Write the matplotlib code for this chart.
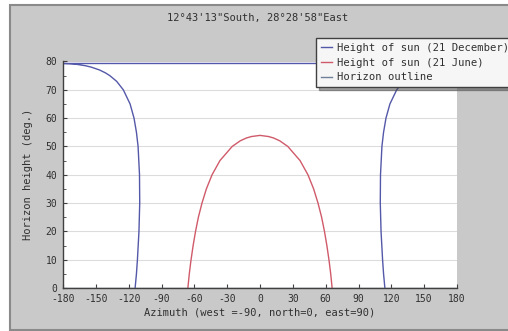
import matplotlib
matplotlib.use("Agg")
import matplotlib.pyplot as plt
from matplotlib.patches import Rectangle
from matplotlib.ticker import MultipleLocator

plt.rcParams["axes.unicode_minus"] = False

# Sun path on 21 June (azimuth in degrees, height in degrees)
june_az = [-65.9, -64.6, -63.0, -61.1, -58.9, -56.3, -53.0, -49.0, -43.8, -36.6, -25.4,
           -18.0, -12.3, -7.8, 0.0, 7.8, 12.3, 18.0, 25.4, 36.6, 43.8, 49.0, 53.0,
           56.3, 58.9, 61.1, 63.0, 64.6, 65.9]
june_alt = [0, 5, 10, 15, 20, 25, 30, 35, 40, 45, 50, 52, 53, 53.5, 53.9,
            53.5, 53, 52, 50, 45, 40, 35, 30, 25, 20, 15, 10, 5, 0]

# Sun path on 21 December: rises in the east, passes south (wraps at +-180), sets in the west
dec_az = [114.1, 112.9, 112.0, 110.6, 109.9, 110.1, 111.4, 112.9, 115.1, 118.7, 124.9,
          131.0, 137.2, 141.3, 146.6, 154.1, 159.4, 167.5, 173.2, 180.0,
          -180.0, -173.2, -167.5, -159.4, -154.1, -146.6, -141.3, -137.2, -131.0,
          -124.9, -118.7, -115.1, -112.9, -111.4, -110.1, -109.9, -110.6, -112.0,
          -112.9, -114.1]
dec_alt = [0, 5, 10, 20, 30, 40, 50, 55, 60, 65, 70, 73, 75, 76, 77, 78, 78.5, 79,
           79.2, 79.3,
           79.3, 79.2, 79, 78.5, 78, 77, 76, 75, 73, 70, 65, 60, 55, 50, 40, 30, 20,
           10, 5, 0]

# Horizon outline (flat horizon)
horizon_az = [-180, 180]
horizon_alt = [0, 0]

x_ticks = [-180, -150, -120, -90, -60, -30, 0, 30, 60, 90, 120, 150, 180]

mono = "DejaVu Sans Mono"
txt = "#303030"

W, H = 508, 331
fig = plt.figure(figsize=(W / 100, H / 100), dpi=100, facecolor="white")

# grey panel behind the chart
fig.patches.append(Rectangle((10 / W, 1 / H), 1.2, (H - 6) / H, transform=fig.transFigure,
                             facecolor="#c9c9c9", edgecolor="#8a8a8a", linewidth=1.5,
                             zorder=-10))

ax = fig.add_axes([63 / W, 1 - 288 / H, 394 / W, 226.5 / H])
ax.set_facecolor("white")

ax.plot(dec_az, dec_alt, color="#5458a8", lw=1.0, label="Height of sun (21 December)")
ax.plot(june_az, june_alt, color="#d05a6a", lw=1.0, label="Height of sun (21 June)")
ax.plot(horizon_az, horizon_alt, color="#6f7f9a", lw=1.0, label="Horizon outline")

ax.set_xlim(-180, 180)
ax.set_ylim(0, 80)
ax.set_xticks(x_ticks)
ax.yaxis.set_major_locator(MultipleLocator(10))
ax.yaxis.set_minor_locator(MultipleLocator(5))
ax.grid(axis="y", color="#dcdcdc", lw=0.8)
ax.set_axisbelow(True)

for s in ["top", "right"]:
    ax.spines[s].set_visible(False)
for s in ["left", "bottom"]:
    ax.spines[s].set_color("#404040")
    ax.spines[s].set_linewidth(1.0)

ax.tick_params(which="major", direction="in", length=3, color="#404040",
               labelsize=7, labelcolor=txt, pad=4)
ax.tick_params(which="minor", direction="in", length=2, color="#404040")
for lab in ax.get_xticklabels() + ax.get_yticklabels():
    lab.set_family(mono)

ax.set_xlabel("Azimuth (west =-90, north=0, east=90)", family=mono, fontsize=7.5, color=txt)
ax.xaxis.set_label_coords(0.5, -0.085)
ax.set_ylabel("Horizon height (deg.)", family=mono, fontsize=7.5, color=txt)
ax.yaxis.set_label_coords(-0.075, 0.5)

fig.text(258 / W, 1 - 18 / H, "12°43'13\"South, 28°28'58\"East", family=mono,
         fontsize=7.5, color=txt, ha="center", va="center")

leg = ax.legend(loc="upper left", bbox_to_anchor=(316 / W, 1 - 38 / H),
                bbox_transform=fig.transFigure, prop={"family": mono, "size": 7.6},
                handlelength=1.1, handletextpad=0.4, labelspacing=0.45,
                borderpad=0.45, borderaxespad=0, fancybox=False, shadow=True,
                framealpha=1, facecolor="#f6f6f6", edgecolor="#404040")
leg.get_frame().set_linewidth(1.0)
for t in leg.get_texts():
    t.set_color(txt)

fig.savefig("out.png", dpi=100, facecolor="white")
